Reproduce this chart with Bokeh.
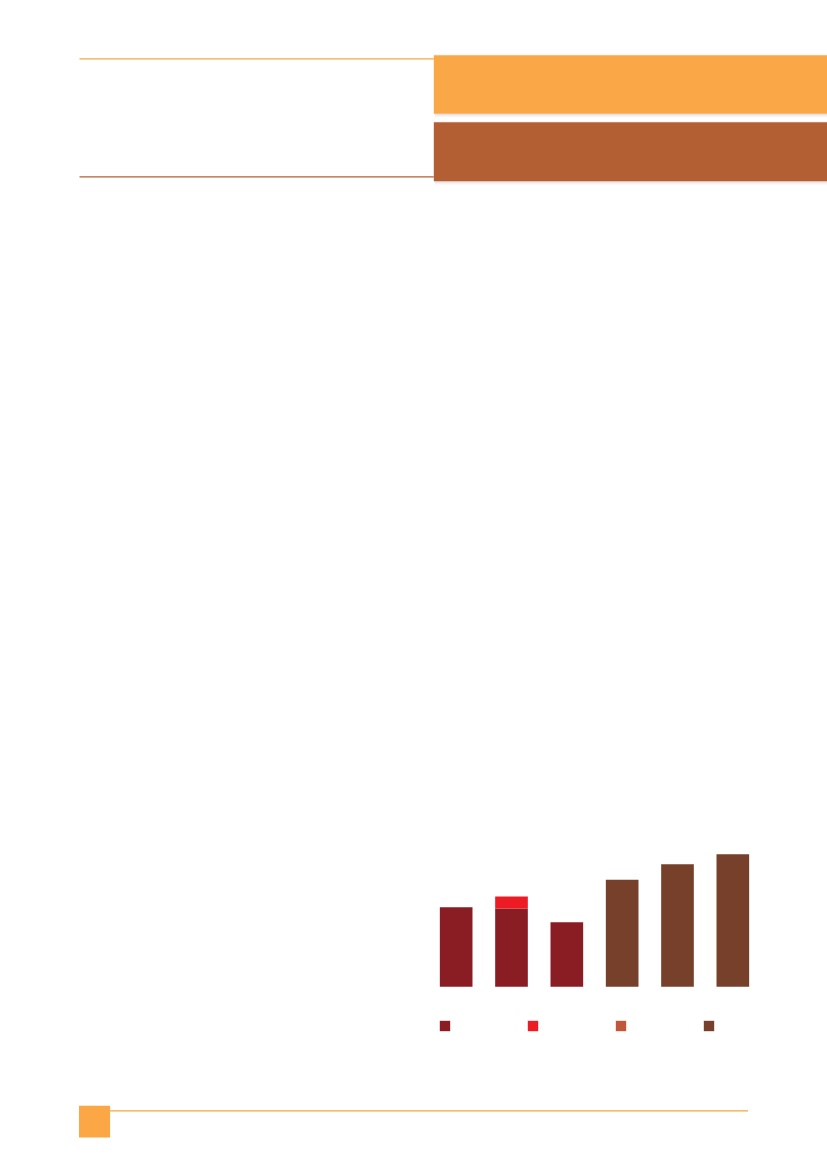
from bokeh.plotting import figure
from bokeh.models import Range1d, FactorRange, ColumnDataSource, Legend, LegendItem, Spacer
from bokeh.layouts import column, row
from bokeh.core.properties import value
from bokeh.embed import file_html
from bokeh.resources import INLINE

# ---------------- data (relative heights) ----------------
categories = ["1", "2", "3", "4", "5", "6"]
series_a = [7.96, 7.83, 6.46, 0.0, 0.0, 0.0]     # dark red
series_b = [0.0, 1.20, 0.0, 0.0, 0.0, 0.0]       # bright red
series_c = [0.0, 0.0, 0.0, 0.0, 0.0, 0.0]        # orange-brown (legend only)
series_d = [0.0, 0.0, 0.0, 10.70, 12.26, 13.26]  # brown
series_names = ["a", "b", "c", "d"]
series_colors = ["#8A1C24", "#ED1C24", "#C0573A", "#76402A"]

PAGE_W = 827


def blank(p):
    p.toolbar_location = None
    p.outline_line_color = None
    p.background_fill_color = "white"
    p.border_fill_color = "white"
    p.min_border = 0
    p.xgrid.visible = False
    p.ygrid.visible = False
    return p


# ---------------- top decoration (page px coordinates) ----------------
top = figure(width=PAGE_W, height=840, x_range=Range1d(0, 827), y_range=Range1d(840, 0),
             output_backend="svg", toolbar_location=None,
             x_axis_location=None, y_axis_location=None)
blank(top)

# box shadows
for off, a in [(1, 0.10), (2, 0.07), (3, 0.05), (4, 0.03)]:
    top.quad(left=[433.3 + 1], right=[840], top=[113.3], bottom=[113.3 + off],
             fill_color="#808080", fill_alpha=a, line_color=None)
    top.quad(left=[433.3 + 1], right=[840], top=[180.7], bottom=[180.7 + off],
             fill_color="#808080", fill_alpha=a, line_color=None)
top.quad(left=[433.3], right=[840], top=[53.5], bottom=[54.7],
         fill_color="#808080", fill_alpha=0.06, line_color=None)
top.quad(left=[433.3], right=[840], top=[120.5], bottom=[121.7],
         fill_color="#808080", fill_alpha=0.06, line_color=None)

top.quad(left=[433.3], right=[840], top=[54.7], bottom=[113.3],
         fill_color="#F9A747", line_color=None)
top.quad(left=[433.3], right=[840], top=[121.7], bottom=[180.7],
         fill_color="#B45F33", line_color=None)
top.segment(x0=[79], x1=[433.3], y0=[58.3], y1=[58.3], line_color="#F9A545", line_width=1.3)
top.segment(x0=[79], x1=[433.3], y0=[176.3], y1=[176.3], line_color="#B45F33", line_width=1.3)

# ---------------- bar chart ----------------
source = ColumnDataSource(dict(cat=categories, a=series_a, b=series_b, c=series_c, d=series_d))
chart = figure(width=340, height=205, x_range=FactorRange(*categories),
               y_range=Range1d(-5.87, 14.63),
               output_backend="svg", toolbar_location=None,
               x_axis_location=None, y_axis_location=None)
blank(chart)
chart.min_border_left = 3
chart.min_border_right = 5
chart.min_border_top = 0
chart.min_border_bottom = 0

renderers = chart.vbar_stack(series_names, x="cat", width=0.59, color=series_colors,
                             line_color=None, source=source)

legend = Legend(items=[LegendItem(label=value(""), renderers=[r]) for r in renderers],
                orientation="horizontal", location=(10, 13),
                glyph_width=13, glyph_height=13, label_width=60, label_height=10,
                label_standoff=5, spacing=10, padding=0, margin=0,
                border_line_color=None, background_fill_alpha=0)
chart.add_layout(legend)

# ---------------- bottom decoration ----------------
bottom = figure(width=PAGE_W, height=124, x_range=Range1d(0, 827), y_range=Range1d(1169, 1045),
                output_backend="svg", toolbar_location=None,
                x_axis_location=None, y_axis_location=None)
blank(bottom)
bottom.quad(left=[78.5], right=[109.6], top=[1105.3], bottom=[1137],
            fill_color="#FBA746", line_color=None)
bottom.segment(x0=[109.6], x1=[747.5], y0=[1110.3], y1=[1110.3],
               line_color="#F9A53A", line_width=1.3)

layout = column(top, row(Spacer(width=425, height=205), chart), bottom)

open("out.html", "w").write(file_html(layout, INLINE))
